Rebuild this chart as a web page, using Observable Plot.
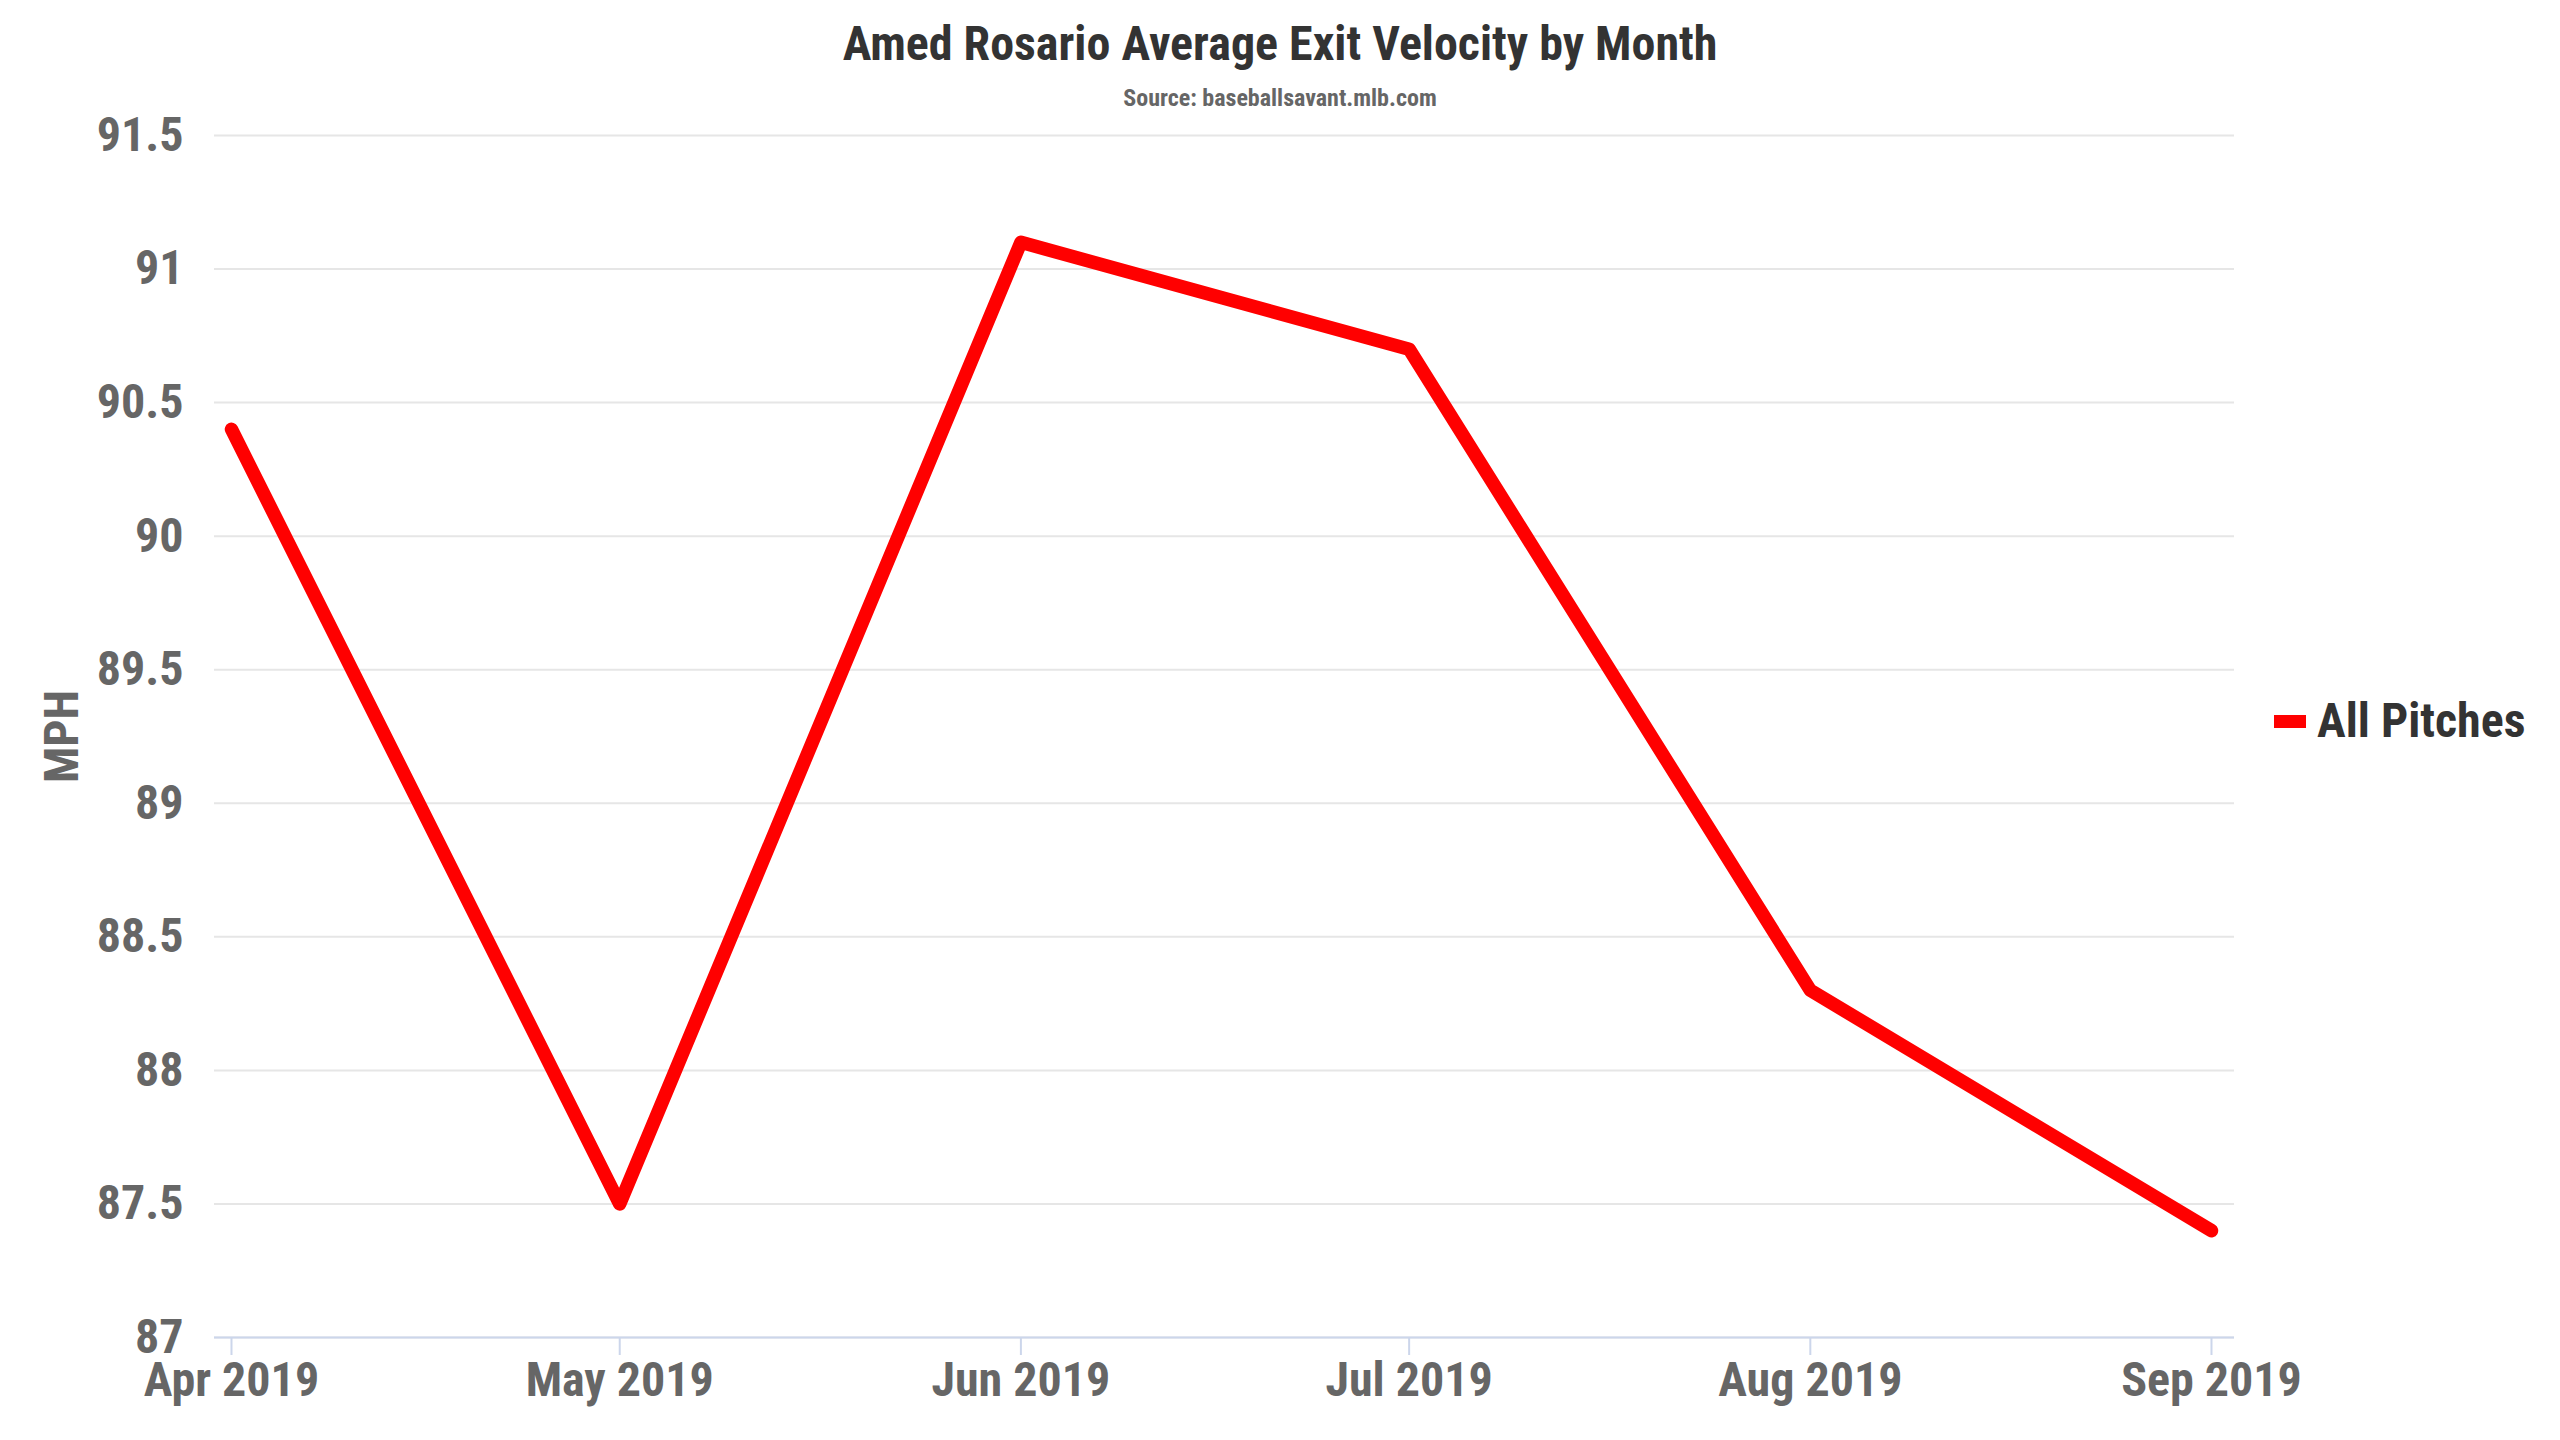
<!DOCTYPE html>
<html>
<head>
<meta charset="utf-8">
<script src="https://cdn.jsdelivr.net/npm/d3@7"></script>
<script src="https://cdn.jsdelivr.net/npm/@observablehq/plot@0.6"></script>
<style>
  body { margin: 0; background: #fff; }
  #chart { position: relative; width: 2560px; height: 1440px; background: #fff;
    font-family: "Roboto Condensed", "Liberation Sans Narrow", "Arial Narrow", "DejaVu Sans Condensed", Roboto, sans-serif;
    font-weight: bold; }
  #header { position: relative; height: 112px; }
  #title { position: absolute; left: 0; width: 2560px; top: 20px; text-align: center;
    font-size: 48px; line-height: 48px; color: #333; white-space: nowrap; }
  #subtitle { position: absolute; left: 0; width: 2560px; top: 86px; text-align: center;
    font-size: 24px; line-height: 24px; color: #666; white-space: nowrap; }
  #legendSwatch { position: absolute; left: 2274px; top: 715px; width: 32px; height: 13px; background: #ff0000; }
  #legendText { position: absolute; left: 2317px; top: 697px; font-size: 48px; line-height: 48px; color: #333; white-space: nowrap; }
</style>
</head>
<body>
<div id="chart">
  <div id="header">
    <div id="title"></div>
    <div id="subtitle"></div>
  </div>
  <div id="plot"></div>
  <div id="legendSwatch"></div>
  <div id="legendText"></div>
</div>
<script>
const titleText = "Amed Rosario Average Exit Velocity by Month";
const subtitleText = "Source: baseballsavant.mlb.com";
const seriesName = "All Pitches";
const yLabel = "MPH";
const months = ["2019-04-01", "2019-05-01", "2019-06-01", "2019-07-01", "2019-08-01", "2019-09-01"];
const exitVelocity = [90.4, 87.5, 91.1, 90.7, 88.3, 87.4];
const yTicks = [87, 87.5, 88, 88.5, 89, 89.5, 90, 90.5, 91, 91.5];
const yDomain = [87, 91.5];
const xDomain = ["2019-03-30T16:30:00Z", "2019-09-02T18:40:00Z"];

const dates = months.map(d => new Date(d + "T00:00:00Z"));
const data = dates.map((d, i) => ({date: d, value: exitVelocity[i]}));

document.getElementById("title").textContent = titleText;
document.getElementById("subtitle").textContent = subtitleText;
document.getElementById("legendText").textContent = seriesName;

const font = '"Roboto Condensed", "Liberation Sans Narrow", "Arial Narrow", "DejaVu Sans Condensed", Roboto, sans-serif';

const chart = Plot.plot({
  width: 2560,
  height: 1328,
  marginTop: 23,
  marginBottom: 103,
  marginLeft: 214,
  marginRight: 326,
  style: {fontFamily: font, fontWeight: "bold", fontSize: "48px", color: "#666", background: "white", overflow: "visible"},
  x: {type: "utc", domain: xDomain.map(d => new Date(d))},
  y: {domain: yDomain},
  marks: [
    Plot.gridY(yTicks, {stroke: "#e6e6e6", strokeOpacity: 1, strokeWidth: 2}),
    Plot.axisY(yTicks, {tickSize: 0, tickPadding: 31, tickFormat: d => String(d), fill: "#666",
      fontSize: 48, fontWeight: "bold", label: yLabel, labelAnchor: "center", labelOffset: 171, labelArrow: false}),
    Plot.ruleY([yDomain[0]], {stroke: "#ccd6eb", strokeWidth: 2}),
    Plot.axisX(dates, {tickSize: 18, tickPadding: 6, stroke: "#ccd6eb", strokeWidth: 2, strokeOpacity: 1, fill: "#666",
      fontSize: 48, fontWeight: "bold", tickFormat: d3.utcFormat("%b %Y"), label: null}),
    Plot.line(data, {x: "date", y: "value", stroke: "#ff0000", strokeWidth: 13.5, strokeLinecap: "round", strokeLinejoin: "round"})
  ]
});
document.getElementById("plot").appendChild(chart);
</script>
</body>
</html>
